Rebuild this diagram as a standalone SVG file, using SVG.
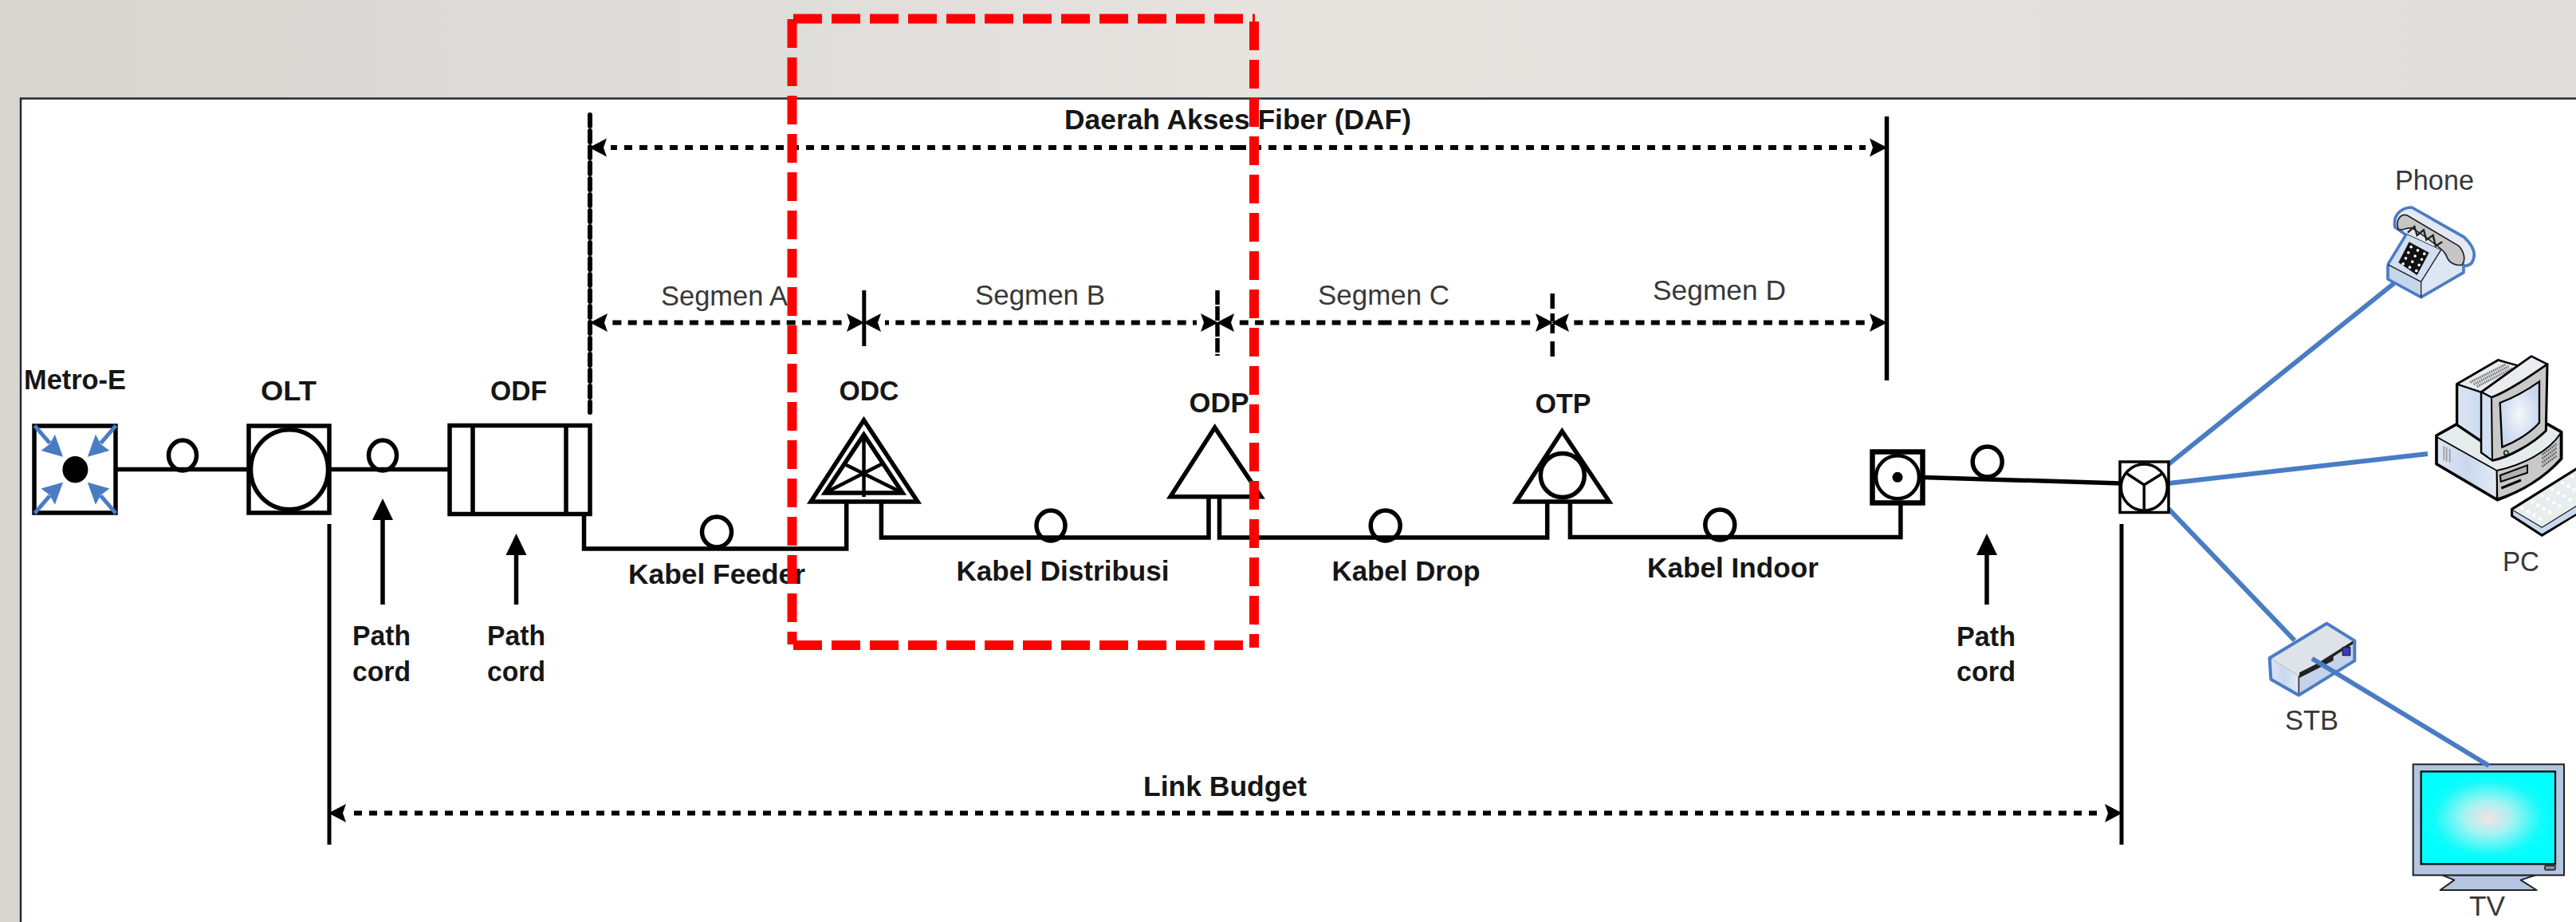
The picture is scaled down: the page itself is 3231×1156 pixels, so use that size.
<svg xmlns="http://www.w3.org/2000/svg" width="3231" height="1156" viewBox="0 0 3231 1156">
<style>
text{font-family:"Liberation Sans",Arial,sans-serif;font-size:35px}
.b{font-weight:700;fill:#161616}
.r{fill:#383838}
.m{text-anchor:middle}
.k{fill:none;stroke:#000;stroke-width:5.5;stroke-linejoin:miter}
.w{fill:#fff;stroke:#000;stroke-width:5.5}
.t{fill:none;stroke:#000;stroke-width:3.5}
.bl{fill:none;stroke:#4a7cc4;stroke-width:6}
.seg{fill:none;stroke:#000;stroke-width:6;stroke-dasharray:11 8.3;stroke-dashoffset:2.5;marker-end:url(#ah)}
.long{fill:none;stroke:#000;stroke-width:6;stroke-dasharray:10 9;marker-end:url(#ah)}
.red{fill:none;stroke:#ff0000;stroke-width:12;stroke-dasharray:36 12}
</style>
<defs>
<linearGradient id="bg" x1="0" y1="0" x2="1" y2="0">
<stop offset="0" stop-color="#d8d6d1"/><stop offset=".32" stop-color="#e0dedA"/><stop offset=".5" stop-color="#e7e4e0"/><stop offset=".75" stop-color="#e3e1dd"/><stop offset="1" stop-color="#dfddd9"/>
</linearGradient>
<radialGradient id="cy"><stop offset="0" stop-color="#f3e2e2"/><stop offset=".35" stop-color="#a8f2f2"/><stop offset=".8" stop-color="#12fbfb"/><stop offset="1" stop-color="#00ffff"/></radialGradient>
<radialGradient id="scr"><stop offset="0" stop-color="#f6f8fb"/><stop offset="1" stop-color="#c9d7ee"/></radialGradient>
<linearGradient id="lb" x1="0" y1="0" x2="1" y2="0"><stop offset="0" stop-color="#dce5f3"/><stop offset=".5" stop-color="#c9d8ee"/><stop offset="1" stop-color="#e3eaf5"/></linearGradient>
<marker id="ah" markerUnits="userSpaceOnUse" markerWidth="40" markerHeight="40" refX="0" refY="20" orient="auto-start-reverse">
<path d="M5 8.500 L9 20 L5 31.500 L27 20Z" fill="#000"/>
</marker>
<marker id="up" markerUnits="userSpaceOnUse" markerWidth="40" markerHeight="40" refX="0" refY="20" orient="auto">
<path d="M0 7 L27 20 L0 33Z" fill="#000"/>
</marker>
<g id="mArrow">
<path d="M-51-55 L-32-33" fill="none" stroke="#4a7cc4" stroke-width="5"/>
<path d="M-15.400-16 L-43-23.700 L-32-32 L-25.500-44Z" fill="#4a7cc4"/>
</g>
</defs>
<rect id="background" width="3231" height="1156" fill="url(#bg)"/>
<rect id="frame" x="26" y="123.500" width="3230" height="1060" fill="#fff" stroke="#1f2a38" stroke-width="2.500"/>

<g id="connectors">
<path class="k" d="M145 588.500H312M413 588.500H564"/>
<path class="k" d="M732.500 645V688H1061.700V630"/>
<path class="k" d="M1105.400 630V674H1516V624"/>
<path class="k" d="M1529.500 624V674H1940.700V630"/>
<path class="k" d="M1969.400 630V673.500H2383.900V630"/>
<path class="k" d="M2412 598.500L2660 606"/>
<path class="bl" d="M2720 582L3003 355M2720 606L3045 569M2720 638L2878 803"/>
<g class="loops">
<ellipse class="k" cx="229" cy="571" rx="17.500" ry="19"/>
<ellipse class="k" cx="480" cy="571" rx="17.500" ry="19"/>
<ellipse class="k" cx="899" cy="667" rx="18.500" ry="19"/>
<ellipse class="k" cx="1318" cy="659" rx="18" ry="19"/>
<ellipse class="k" cx="1737.700" cy="659" rx="18.500" ry="19"/>
<ellipse class="k" cx="2157.300" cy="658" rx="18.500" ry="19"/>
<ellipse class="k" cx="2492.700" cy="579" rx="18.500" ry="19"/>
</g>
<g id="dimension-lines">
<path class="k" d="M740 144V517" style="stroke-width:6;stroke-dasharray:14 6;stroke-linecap:round"/>
<path class="k" d="M2366.500 146V477"/>
<path class="k" d="M1083.800 364V434" style="stroke-width:5"/>
<path class="k" d="M1527 364V446" style="stroke-width:5.500;stroke-dasharray:18 2"/>
<path class="k" d="M1947.200 368V387M1947.200 393V403M1947.200 406V418M1947.200 428V447" style="stroke-width:5.500"/>
<path class="k" d="M413 657V1059M2661 657V1059" style="stroke-width:5"/>
<path class="long" d="M1553 185H766"/>
<path class="long" d="M1553 185H2340"/>
<path class="seg" d="M912 404.500H767"/>
<path class="seg" d="M912 404.500H1057"/>
<path class="seg" d="M1305.500 404.500H1110"/>
<path class="seg" d="M1305.500 404.500H1501"/>
<path class="seg" d="M1737 404.500H1553"/>
<path class="seg" d="M1737 404.500H1921"/>
<path class="seg" d="M2156.500 404.500H1973"/>
<path class="seg" d="M2156.500 404.500H2340"/>
<path class="long" d="M1537 1019.500H439"/>
<path class="long" d="M1537 1019.500H2635"/>
</g>
<g id="pointers">
<path class="k" d="M480 758V652" marker-end="url(#up)"/>
<path class="k" d="M647.500 758V696" marker-end="url(#up)"/>
<path class="k" d="M2492 758V696" marker-end="url(#up)"/>
</g>
</g>

<g id="metro-e">
<rect class="w" x="43" y="534" width="102" height="109"/>
<ellipse cx="94.400" cy="588.700" rx="16" ry="16.700"/>
<use href="#mArrow" transform="translate(94.400 588.700)"/>
<use href="#mArrow" transform="translate(94.400 588.700) scale(-1 1)"/>
<use href="#mArrow" transform="translate(94.400 588.700) scale(1 -1)"/>
<use href="#mArrow" transform="translate(94.400 588.700) scale(-1 -1)"/>
<text class="b" x="94" y="487.500" text-anchor="middle" textLength="128" lengthAdjust="spacingAndGlyphs">Metro-E</text>
</g>
<g id="olt">
<rect class="w" x="312" y="534" width="101" height="109"/>
<ellipse class="w" cx="363" cy="588.700" rx="48.500" ry="50"/>
<text class="b m" x="362" y="501.500" textLength="70" lengthAdjust="spacingAndGlyphs">OLT</text>
</g>
<g id="odf">
<rect class="w" x="564" y="533.500" width="176" height="111"/>
<path class="k" d="M593 533.500V644.500M710 533.500V644.500"/>
<text class="b m" x="650.500" y="502" textLength="71" lengthAdjust="spacingAndGlyphs">ODF</text>
</g>
<g id="odc">
<path class="w" d="M1083.500 526.700L1151 629H1017Z"/>
<path class="k" d="M1083.500 545L1132 618H1034.800Z" style="stroke-width:5.500"/>
<path class="t" style="stroke-width:4.500" d="M1083.500 545V623M1034.800 618L1106 581.700M1132 618L1059 581.700"/>
<text class="b m" x="1090" y="501.500" textLength="75" lengthAdjust="spacingAndGlyphs">ODC</text>
</g>
<g id="odp">
<path class="w" d="M1523.700 536L1581.700 622.700H1468Z"/>
<text class="b m" x="1529" y="517" textLength="75" lengthAdjust="spacingAndGlyphs">ODP</text>
</g>
<g id="otp">
<path class="w" d="M1959.300 540.700L2018.400 629H1901.700Z"/>
<circle class="w" cx="1959.800" cy="596" r="27.500"/>
<text class="b m" x="1960.500" y="517.500" textLength="70" lengthAdjust="spacingAndGlyphs">OTP</text>
</g>
<g id="ont">
<rect class="w" x="2348.500" y="566.500" width="63" height="64" style="stroke-width:6.500"/>
<circle class="w" cx="2380" cy="598.300" r="27" style="stroke-width:4.500"/>
<circle cx="2380" cy="598.300" r="6.500"/>
</g>
<g id="splitter">
<rect class="w" x="2659" y="579" width="61" height="63.500" style="stroke-width:3.500"/>
<circle class="t" cx="2689.300" cy="611" r="29"/>
<path class="t" d="M2668 594L2689.300 608L2711.700 594M2689.300 608V638"/>
</g>
<g id="phone" transform="translate(2880 180) scale(.33333)">
<path d="M372 315C362 265 400 240 435 240L632 352C668 385 680 420 660 450C640 465 630 460 625 455L415 345Z" fill="#e4eaf3" stroke="#4a7cc4" stroke-width="11"/>
<path d="M345 455L415 340L545 400L470 520Z" fill="#d2dff1" stroke="#333" stroke-width="3"/>
<path d="M470 520L545 400L580 445L630 458V485L470 578Z" fill="#dce6f4"/>
<path d="M345 455L470 520V578L345 510Z" fill="#c6d6ed"/>
<path d="M345 455L415 340M345 455V510L470 578L630 485V458" fill="none" stroke="#4a7cc4" stroke-width="11" stroke-linejoin="round"/>
<path d="M345 455L470 520L545 400M470 520V578" fill="none" stroke="#222" stroke-width="4"/>
<path d="M385 322C372 290 392 262 418 270L612 385C635 410 637 440 625 456C600 462 572 448 565 420C558 398 470 340 440 320C420 310 400 332 385 322Z" fill="#c6c6c6" stroke="#222" stroke-width="5"/>
<path d="M420 335L445 312L455 345L480 325L490 362L515 345L525 385L550 370" fill="none" stroke="#222" stroke-width="7"/>
<path d="M425 370L500 410L455 495L385 447Z" fill="#111"/>
<path d="M432.500 389h0M457.500 401.700h0M482.500 414.400h0M422.500 410.250h0M447.500 423h0M472.500 435.700h0M412.500 431.500h0M437.500 444.200h0M462.500 456.900h0M402.500 452.750h0M427.500 465.500h0M452.500 478.200h0" stroke="#fff" stroke-width="11" stroke-linecap="round"/>
</g>
<text class="r m" x="3053.500" y="238" textLength="99" lengthAdjust="spacingAndGlyphs">Phone</text>
<g id="pc" transform="translate(2880 440) scale(.33333)">
<path d="M528 318L605 275H945L998 305V405C930 480 840 530 757 560L528 425Z" fill="#e6ebee" stroke="#000" stroke-width="11" stroke-linejoin="round"/>
<path d="M531 325L755 450V556L531 424Z" fill="url(#lb)" stroke="#000" stroke-width="5"/>
<path d="M755 450C850 430 950 380 995 310V405C930 480 840 530 757 556Z" fill="#c9c9c9" stroke="#000" stroke-width="6"/>
<path d="M768 468L870 430V458L770 492Z" fill="#b0b0b0" stroke="#000" stroke-width="6"/>
<path d="M772 516L846 486" stroke="#000" stroke-width="9"/>
<path d="M925 405L980 365M925 420L980 380M925 435L980 395M925 390L980 350" stroke="#666" stroke-width="8" stroke-dasharray="6 3"/>
<path d="M556 358V412M566 362V416M578 368V420" stroke="#999" stroke-width="5"/>
<path d="M605 125L760 35L835 60V150L697 340L605 278Z" fill="url(#lb)" stroke="#000" stroke-width="10" stroke-linejoin="round"/>
<path d="M605 125L760 35L835 55L695 155Z" fill="#e6ebef" stroke="#000" stroke-width="7" stroke-linejoin="round"/>
<path d="M655 118L790 50M668 126L800 58M680 134L812 66" stroke="#777" stroke-width="9" stroke-dasharray="5 3"/>
<path d="M697 155C790 130 880 80 945 50L940 300C890 350 800 400 740 412L697 382Z" fill="#c9c9c9" stroke="#000" stroke-width="9" stroke-linejoin="round"/>
<path d="M697 155L835 55L885 20L945 50C880 95 800 150 735 175Z" fill="#e9edf0" stroke="#000" stroke-width="8" stroke-linejoin="round"/>
<path d="M697 155L735 175L738 412L697 382Z" fill="#d3e0f2" stroke="#000" stroke-width="6"/>
<path d="M767 195C820 175 880 140 915 115V270C880 310 820 345 775 362Z" fill="url(#scr)" stroke="#000" stroke-width="7"/>
<circle cx="790" cy="383" r="8" fill="#8fa" stroke="#222" stroke-width="5"/>
<path d="M812 595L1060 440V610L925 693L812 620Z" fill="#e8eeee" stroke="#000" stroke-width="10" stroke-linejoin="round"/>
<path d="M817 598L925 662L1060 578V608L925 688L817 618Z" fill="#c9d9f0"/>
<path d="M812 597L925 664L1060 580" fill="none" stroke="#222" stroke-width="4"/>
<path d="M850 592h0M888 568h0M926 544h0M964 520h0M1002 496h0M1040 472h0M872 605h0M910 581h0M948 557h0M986 533h0M1024 509h0M894 618h0M932 594h0M970 570h0M1008 546h0M1046 522h0M916 631h0M954 607h0M992 583h0M1030 559h0" stroke="#fff" stroke-width="14" stroke-linecap="round"/>
</g>
<text class="r m" x="3162" y="716" textLength="46" lengthAdjust="spacingAndGlyphs">PC</text>
<g id="stb" transform="translate(2780 760) scale(.33333)">
<path d="M200 195L415 65L520 130L310 265Z" fill="#dde3e8"/>
<path d="M200 195L310 265V335L205 275Z" fill="url(#lb)"/>
<path d="M310 265L520 130V205L310 335Z" fill="#c4d3e9"/>
<path d="M200 195L310 262" fill="none" stroke="#888" stroke-width="3" stroke-dasharray="4 4"/>
<path d="M310 262V335" stroke="#333" stroke-width="5"/>
<path d="M312 250L380 215L515 130L515 142L440 190V205L312 270Z" fill="#222"/>
<rect x="475" y="155" width="28" height="30" fill="#3a3acb" stroke="#222" stroke-width="4"/>
<path d="M200 195L415 65L520 130V205L310 335L205 275Z" fill="none" stroke="#4a7cc4" stroke-width="12" stroke-linejoin="round"/>
</g>
<text class="r m" x="2899.500" y="915" textLength="67" lengthAdjust="spacingAndGlyphs">STB</text>
<g id="tv" transform="translate(2780 760) scale(.33333)">
<path d="M850 1012L895 1030L842 1068H1205L1145 1030L1200 1012Z" fill="#b3c5e0" stroke="#222" stroke-width="6" stroke-linejoin="round"/>
<rect x="740" y="595" width="568" height="417" fill="#b3c5e0" stroke="#222" stroke-width="6"/>
<rect x="770" y="622" width="505" height="348" fill="url(#cy)" stroke="#111" stroke-width="7"/>
<rect x="1236" y="976" width="39" height="16" rx="4" fill="#8a99b0" stroke="#222" stroke-width="5"/>
</g>
<text class="r m" x="3119.500" y="1148" textLength="45" lengthAdjust="spacingAndGlyphs">TV</text>
<path id="stb-tv" class="bl" d="M2900 825.700L3121.700 960"/>

<g id="labels">
<text class="b m" x="1552.500" y="162" textLength="435" lengthAdjust="spacingAndGlyphs">Daerah Akses Fiber (DAF)</text>
<text class="b m" x="1536.500" y="998" textLength="205" lengthAdjust="spacingAndGlyphs">Link Budget</text>
<text class="r m" x="908.500" y="382.500" textLength="159" lengthAdjust="spacingAndGlyphs">Segmen A</text>
<text class="r m" x="1304.500" y="381.500" textLength="163" lengthAdjust="spacingAndGlyphs">Segmen B</text>
<text class="r m" x="1735.500" y="381.500" textLength="165" lengthAdjust="spacingAndGlyphs">Segmen C</text>
<text class="r m" x="2156.500" y="376" textLength="167" lengthAdjust="spacingAndGlyphs">Segmen D</text>
<text class="b m" x="899" y="732" textLength="222" lengthAdjust="spacingAndGlyphs">Kabel Feeder</text>
<text class="b m" x="1333" y="728" textLength="267" lengthAdjust="spacingAndGlyphs">Kabel Distribusi</text>
<text class="b m" x="1763.500" y="728" textLength="186" lengthAdjust="spacingAndGlyphs">Kabel Drop</text>
<text class="b m" x="2173.500" y="724" textLength="215" lengthAdjust="spacingAndGlyphs">Kabel Indoor</text>
<text class="b m" x="478.500" y="809" textLength="73" lengthAdjust="spacingAndGlyphs">Path</text>
<text class="b m" x="478.500" y="854" textLength="73" lengthAdjust="spacingAndGlyphs">cord</text>
<text class="b m" x="647.500" y="809" textLength="73" lengthAdjust="spacingAndGlyphs">Path</text>
<text class="b m" x="647.500" y="854" textLength="73" lengthAdjust="spacingAndGlyphs">cord</text>
<text class="b m" x="2491" y="810" textLength="74" lengthAdjust="spacingAndGlyphs">Path</text>
<text class="b m" x="2491" y="854" textLength="74" lengthAdjust="spacingAndGlyphs">cord</text>
</g>

<g id="red-selection">
<path class="red" d="M995 23.500H1574"/>
<path class="red" d="M1573 27V812"/>
<path class="red" d="M995 809H1559"/>
<path class="red" d="M993.500 24V808"/>
</g>
</svg>
